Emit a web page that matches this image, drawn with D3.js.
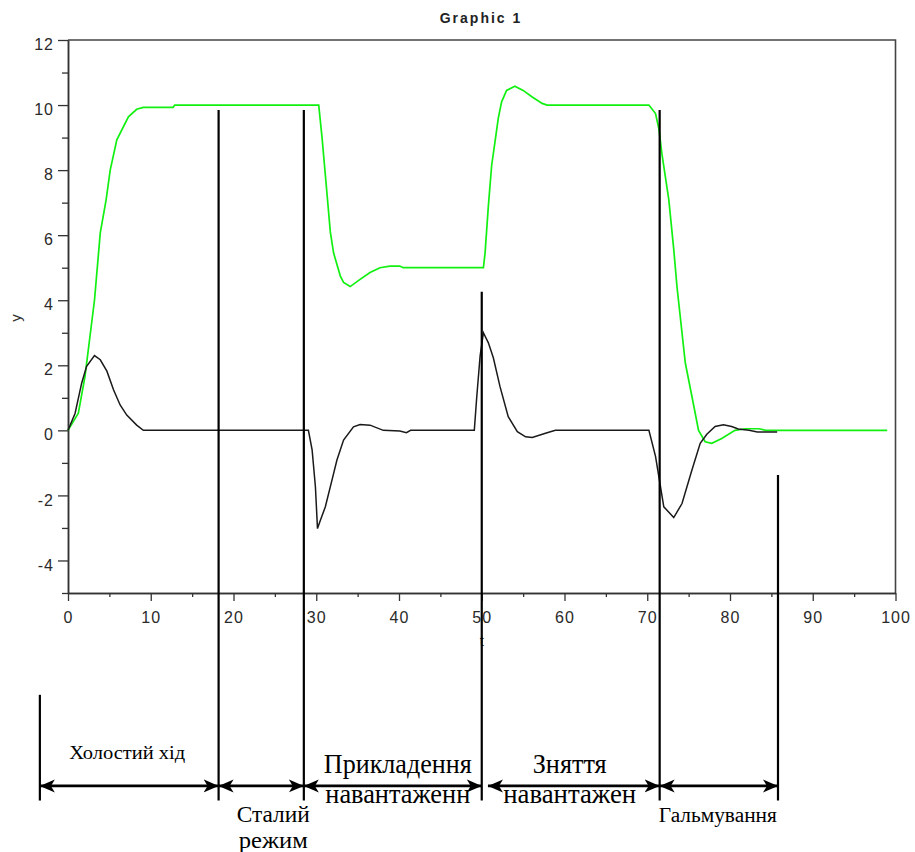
<!DOCTYPE html>
<html>
<head>
<meta charset="utf-8">
<script src="https://cdn.jsdelivr.net/npm/d3@7"></script>
<style>
  body { margin: 0; background: #fff; }
  .tick text { font-family: "Liberation Sans", Arial, sans-serif; font-size: 16px; fill: #2a2a2a; letter-spacing: 1px; }
  .domain { stroke: #333; stroke-width: 1.5; }
  .tick line { stroke: #333; stroke-width: 1.3; }
</style>
</head>
<body>
<script>
// green curve (t, y)
const greenT = [0, 1.25, 2.05, 3.2, 3.9, 4.6, 5.1, 5.9, 7.3, 8.3, 9.1, 12.7, 12.9, 30.3, 30.7, 31.1, 31.7, 32.1, 32.9, 33.3, 34.1, 35.3, 36.5, 37.7, 38.9, 40.1, 40.5,
  50.2, 50.4, 50.8, 51.2, 51.6, 52.0, 52.4, 53.0, 54.0, 55.0, 56.1, 57.3, 57.9, 70.2, 71.0, 71.4, 71.8, 72.6, 73.2, 73.6, 74.6, 75.4, 76.2, 77.0, 77.8, 79.0, 80.6, 81.9, 83.5, 84.3, 99];
const greenY = [0, 0.53, 1.65, 4.0, 6.07, 7.08, 8.0, 8.93, 9.64, 9.87, 9.93, 9.93, 10, 10, 9.0, 7.85, 6.1, 5.45, 4.75, 4.55, 4.42, 4.64, 4.85, 5.0, 5.05, 5.05, 5.0,
  5.0, 5.45, 6.9, 8.15, 8.87, 9.6, 10.1, 10.45, 10.58, 10.45, 10.25, 10.05, 10, 10, 9.74, 9.28, 8.45, 7.1, 5.57, 4.4, 2.07, 1.04, 0, -0.35, -0.4, -0.25, 0, 0.05, 0.05, 0, 0];

// black curve (t, y)
const blackT = [0, 0.85, 1.65, 2.25, 3.2, 3.9, 4.7, 5.5, 6.3, 7.1, 8.3, 9.1, 29.05, 29.5, 29.9, 30.15, 30.5, 31.1, 31.9, 32.5, 33.3, 34.5, 35.3, 36.5, 38.1, 40.1, 40.9, 41.4,
  49.1, 49.4, 49.8, 50.2, 50.8, 51.4, 52.2, 53.2, 54.3, 55.3, 56.1, 57.7, 58.9, 70.2, 71.0, 71.4, 72.0, 73.2, 74.2, 75.4, 76.4, 77.2, 78.2, 79.2, 80.2, 81.0, 82.3, 83.3, 85.7];
const blackY = [0, 0.52, 1.45, 1.97, 2.3, 2.17, 1.82, 1.25, 0.78, 0.47, 0.16, 0, 0, -0.6, -1.74, -3.02, -2.76, -2.35, -1.53, -0.91, -0.3, 0.11, 0.18, 0.16, 0, -0.02, -0.07, 0,
  0, 1.04, 2.28, 3.0, 2.69, 2.23, 1.35, 0.42, -0.04, -0.2, -0.22, -0.09, 0, 0, -0.8, -1.42, -2.35, -2.68, -2.25, -1.22, -0.4, -0.12, 0.12, 0.17, 0.12, 0.04, 0, -0.05, -0.05];

// ticks
const xTicks = d3.range(0, 101, 10);
const xMinor = d3.range(5, 100, 10);
const yTicks = d3.range(-4, 13, 2);
const yMinor = d3.range(-5, 12, 2);

// phase boundaries (t) and phase names
const phaseBounds = [-3.4, 18.2, 28.5, 50.0, 71.5, 85.8];
const phaseNames = [["Холостий хід"], ["Сталий", "режим"], ["Прикладення", "навантаженн"], ["Зняття", "навантажен"], ["Гальмування"]];

// layout of the annotation (y units for line tops, px for labels)
const boundTop = [-8.13, 9.85, 9.85, 4.26, 9.85, -1.37];
const boundBottom = -11.38;
const arrowLevel = -10.93;
const arrowStartPad = [0, 0, 0, 0.75, 0];
const labelSize = [18, 24, 27, 27, 20];
const labelDx = [-2, 12, 5, -1, -1];
const labelDy = [[-26.7], [35.7, 62], [-12.7, 17], [-13, 16.7], [35.7]];
const labelLen = [[116], [73, 69], [148, 145], [74, 133], [118]];

const w = 915, h = 852;
const svg = d3.select("body").append("svg").attr("width", w).attr("height", h);

const x = d3.scaleLinear().domain([0, 100]).range([68, 895.5]);
const y = d3.scaleLinear().domain([-5, 12]).range([593, 40]);

//title
svg.append("text").attr("x", 481).attr("y", 23).attr("text-anchor", "middle")
  .style("font-family", "Liberation Sans, Arial, sans-serif").style("font-size", "14px")
  .style("font-weight", "bold").style("letter-spacing", "2px").style("fill", "#222")
  .text("Graphic 1");

//frame top and right
svg.append("path")
  .attr("d", `M${x(0)},${y(12)}H${x(100)}V${y(-5)}`)
  .attr("fill", "none").attr("stroke", "#444").attr("stroke-width", 1.6);

//axes
const fmt = (d) => String(d);
svg.append("g").attr("transform", `translate(0,${y(-5)})`)
  .call(d3.axisBottom(x).tickValues(xMinor).tickSize(4).tickSizeOuter(0).tickFormat(""));
svg.append("g").attr("transform", `translate(0,${y(-5)})`)
  .call(d3.axisBottom(x).tickValues(xTicks).tickSize(8).tickPadding(11).tickSizeOuter(0).tickFormat(fmt));
svg.append("g").attr("transform", `translate(${x(0)},0)`)
  .call(d3.axisLeft(y).tickValues(yMinor).tickSize(6).tickSizeOuter(0).tickFormat(""));
svg.append("g").attr("transform", `translate(${x(0)},0)`)
  .call(d3.axisLeft(y).tickValues(yTicks).tickSize(10).tickPadding(4).tickSizeOuter(0).tickFormat(fmt))
  .call((g) => g.selectAll(".tick text").attr("dy", "0.6em"));

//axis labels
svg.append("text").attr("transform", `translate(21,318) rotate(-90)`).attr("text-anchor", "middle")
  .style("font-family", "Liberation Sans, Arial, sans-serif").style("font-size", "15px").style("fill", "#333")
  .text("y");
svg.append("text").attr("x", x(50)).attr("y", 646).attr("text-anchor", "middle")
  .style("font-family", "Liberation Sans, Arial, sans-serif").style("font-size", "15px").style("fill", "#333")
  .text("t");

//curves
const line = d3.line().x((d) => x(d[0])).y((d) => y(d[1]));
svg.append("path").datum(d3.zip(greenT, greenY)).attr("d", line)
  .attr("fill", "none").attr("stroke", "#11f011").attr("stroke-width", 1.7);
svg.append("path").datum(d3.zip(blackT, blackY)).attr("d", line)
  .attr("fill", "none").attr("stroke", "#1a1a1a").attr("stroke-width", 1.5);

//annotation
svg.append("defs").append("marker").attr("id", "arr")
  .attr("viewBox", "0 -7 16 14").attr("refX", 15).attr("refY", 0)
  .attr("markerWidth", 16).attr("markerHeight", 14).attr("markerUnits", "userSpaceOnUse")
  .attr("orient", "auto-start-reverse")
  .append("path").attr("d", "M0,-6.5L15,0L0,6.5L4,0Z").attr("fill", "#000");

const ann = svg.append("g");
ann.selectAll("line.bound").data(phaseBounds).enter().append("line").attr("class", "bound")
  .attr("x1", (d) => x(d)).attr("x2", (d) => x(d))
  .attr("y1", (d, i) => y(boundTop[i])).attr("y2", y(boundBottom))
  .attr("stroke", "#000").attr("stroke-width", 2.2);

const arrowY = y(arrowLevel);
ann.selectAll("line.arrow").data(phaseNames).enter().append("line").attr("class", "arrow")
  .attr("x1", (d, i) => x(phaseBounds[i] + arrowStartPad[i]))
  .attr("x2", (d, i) => x(phaseBounds[i + 1]))
  .attr("y1", arrowY).attr("y2", arrowY)
  .attr("stroke", "#000").attr("stroke-width", 2.6)
  .attr("marker-start", "url(#arr)").attr("marker-end", "url(#arr)");

phaseNames.forEach((lines, i) => {
  const cx = (x(phaseBounds[i]) + x(phaseBounds[i + 1])) / 2 + labelDx[i];
  lines.forEach((txt, j) => {
    ann.append("text").attr("x", cx).attr("y", arrowY + labelDy[i][j])
      .attr("text-anchor", "middle")
      .attr("textLength", labelLen[i][j]).attr("lengthAdjust", "spacingAndGlyphs")
      .style("font-family", "Liberation Serif, Times New Roman, serif")
      .style("font-size", labelSize[i] + "px").style("fill", "#000")
      .text(txt);
  });
});
</script>
</body>
</html>
